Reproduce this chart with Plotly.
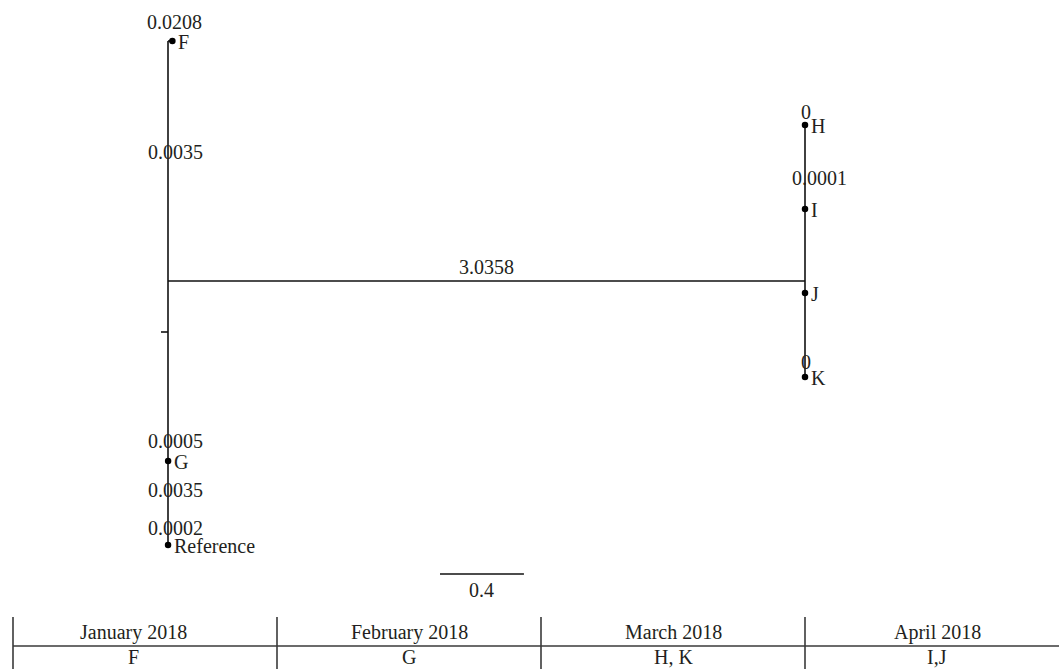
import plotly.graph_objects as go

# ---------------- data ----------------
tip_names = ["F", "H", "I", "J", "K", "G", "Reference"]
tip_branch = [0.0208, 0.0, 0.0001, 0.0, 0.0, 0.0005, 0.0002]
tip_in_clade = [False, True, True, True, True, False, False]
clade_branch = 3.0358
left_labels = ["0.0208", "0.0035", "0.0005", "0.0035", "0.0002"]
right_labels = ["0", "0.0001", "0"]
scale_len = 0.4

months = ["January 2018", "February 2018", "March 2018", "April 2018"]
month_samples = ["F", "G", "H, K", "I,J"]

# ---------------- layout (rows / pixel helpers) ----------------
W, H = 1059, 669
PX0, PXU = 168.0, 637.0 / clade_branch      # x=0 pixel, pixels per unit
PY0, PYR = 41.0, 84.0                        # row 0 pixel, pixels per row
tip_rows = [0, 1, 2, 3, 4, 5, 6]
clade_row = 2.857
root_stub = 7 / PXU

left_label_rows = [-0.226, 1.321, 4.762, 5.345, 5.798]
left_label_dx = [6, 7, 7, 7, 7]
right_label_rows = [0.845, 1.631, 3.821]
right_label_dx = [1, 14, 1]

FONT = "Liberation Serif"
INK = "#231f20"

fig = go.Figure()

def seg(x0, x1, y0, y1, color="#111111", w=1.6):
    fig.add_trace(go.Scatter(x=[x0, x1], y=[y0, y1], mode="lines",
                             line=dict(color=color, width=w),
                             hoverinfo="skip", showlegend=False))

# tip positions
tip_x = [(clade_branch if c else 0.0) + b for c, b in zip(tip_in_clade, tip_branch)]

# root vertical
left_rows = [r for r, c in zip(tip_rows, tip_in_clade) if not c]
seg(0, 0, min(left_rows), max(left_rows))
# root stub at mean of children
root_children = left_rows + [clade_row]
root_row = sum(root_children) / len(root_children)
seg(-root_stub, 0, root_row, root_row)
# clade branch
seg(0, clade_branch, clade_row, clade_row)
right_rows = [r for r, c in zip(tip_rows, tip_in_clade) if c]
seg(clade_branch, clade_branch, min(right_rows), max(right_rows))
# tip branches
for x, r, c in zip(tip_x, tip_rows, tip_in_clade):
    base = clade_branch if c else 0.0
    seg(base, x, r, r)

# tips
fig.add_trace(go.Scatter(x=tip_x, y=tip_rows, mode="markers",
                         marker=dict(color="#000000", size=6.5),
                         hoverinfo="skip", showlegend=False))

ann = []
for name, x, r in zip(tip_names, tip_x, tip_rows):
    ann.append(dict(x=x, y=r, text=name, xanchor="left", yanchor="middle",
                    xshift=4, yshift=-1, showarrow=False,
                    font=dict(family=FONT, size=20, color=INK)))
for t, r, dx in zip(left_labels, left_label_rows, left_label_dx):
    ann.append(dict(x=0, y=r, text=t, xanchor="center", yanchor="middle",
                    xshift=dx, showarrow=False,
                    font=dict(family=FONT, size=20, color=INK)))
for t, r, dx in zip(right_labels, right_label_rows, right_label_dx):
    ann.append(dict(x=clade_branch, y=r, text=t, xanchor="center", yanchor="middle",
                    xshift=dx, showarrow=False,
                    font=dict(family=FONT, size=20, color=INK)))
ann.append(dict(x=clade_branch / 2, y=clade_row, text=f"{clade_branch:.4f}",
                xanchor="center", yanchor="bottom", yshift=1, showarrow=False,
                font=dict(family=FONT, size=20, color=INK)))

# scale bar
sb_x0 = (440 - PX0) / PXU
sb_row = (574 - PY0) / PYR
seg(sb_x0, sb_x0 + scale_len, sb_row, sb_row, color="#111111", w=1.4)
ann.append(dict(x=sb_x0 + scale_len / 2, y=sb_row, text=str(scale_len),
                xanchor="center", yanchor="top", yshift=-3, showarrow=False,
                font=dict(family=FONT, size=20, color=INK)))

# table (paper coords from pixels)
def px(xp): return xp / W
def py(yp): return 1 - yp / H
tbl_left, col_w = 13, 264
tbl_top, tbl_mid = 617, 646
shapes = []
for i in range(len(months)):
    xl = tbl_left + i * col_w
    shapes.append(dict(type="line", xref="paper", yref="paper",
                       x0=px(xl), x1=px(xl), y0=py(tbl_top), y1=py(H),
                       line=dict(color="#3a3a3a", width=1.6)))
shapes.append(dict(type="line", xref="paper", yref="paper",
                   x0=px(tbl_left), x1=1, y0=py(tbl_mid), y1=py(tbl_mid),
                   line=dict(color="#3a3a3a", width=1.6)))
col_centers = [133, 409, 673, 937]
for m, s, cx in zip(months, month_samples, col_centers):
    ann.append(dict(x=px(cx), y=py(632), xref="paper", yref="paper", text=m,
                    xanchor="center", yanchor="middle", showarrow=False,
                    font=dict(family=FONT, size=20, color=INK)))
    ann.append(dict(x=px(cx), y=py(657), xref="paper", yref="paper", text=s,
                    xanchor="center", yanchor="middle", showarrow=False,
                    font=dict(family=FONT, size=20, color=INK)))

xr = [(0 - PX0) / PXU, (W - PX0) / PXU]
yr = [(H - PY0) / PYR, (0 - PY0) / PYR]

fig.update_layout(
    width=W, height=H, margin=dict(l=0, r=0, t=0, b=0),
    paper_bgcolor="white", plot_bgcolor="white",
    xaxis=dict(range=xr, visible=False, fixedrange=True),
    yaxis=dict(range=yr, visible=False, fixedrange=True),
    annotations=ann, shapes=shapes, hovermode=False, showlegend=False,
)
fig.write_html("out.html", config={"displayModeBar": False})
